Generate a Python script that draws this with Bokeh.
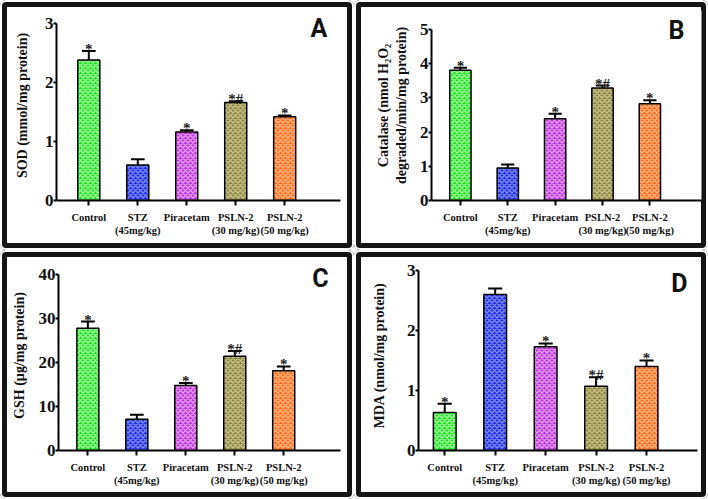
from bokeh.plotting import figure
from bokeh.layouts import column, row
from bokeh.models import FixedTicker, Label, ColumnDataSource
from bokeh.core.properties import value
from bokeh.embed import file_html
from bokeh.resources import INLINE

groups = ["Control", "STZ\n(45mg/kg)", "Piracetam", "PSLN-2\n(30 mg/kg)", "PSLN-2\n(50 mg/kg)"]
fill_colors = ["#22e422", "#2231e2", "#bb3ad8", "#8c8744", "#ff6d1f"]
hatch_colors = ["#b4ffb4", "#8a96ff", "#eca6f8", "#cfcb92", "#ffc08e"]

sod_mean = [2.38, 0.60, 1.16, 1.66, 1.42]
sod_err = [0.15, 0.10, 0.03, 0.02, 0.02]
cat_mean = [3.81, 0.95, 2.39, 3.29, 2.83]
cat_err = [0.07, 0.10, 0.15, 0.07, 0.10]
gsh_mean = [27.8, 7.1, 14.75, 21.4, 18.1]
gsh_err = [1.5, 1.0, 0.6, 1.2, 1.0]
mda_mean = [0.635, 2.60, 1.73, 1.07, 1.40]
mda_err = [0.145, 0.10, 0.055, 0.15, 0.10]
marks = ["*", "", "*", "*#", "*"]

SERIF = "Liberation Serif"
INK = "#111111"


def panel(letter, means, errs, ylabel, yticks, ymax, yend, xr, width, height,
          left, right, top, bottom, letter_xy, label_standoff):
    p = figure(width=width, height=height, x_range=xr, y_range=(0, yend),
               output_backend="svg", toolbar_location=None,
               min_border_left=left, min_border_right=right,
               min_border_top=top, min_border_bottom=bottom)
    p.outline_line_color = None
    p.border_fill_alpha = 0
    p.xgrid.visible = False
    p.ygrid.visible = False
    p.styles = {"box-shadow": "inset 0 0 0 2px #ffffff, inset 0 0 0 7px #151515",
                "border-radius": "6px"}
    xs = list(range(len(groups)))
    tops = [m + e for m, e in zip(means, errs)]
    src = ColumnDataSource(dict(x=xs, top=means, fc=fill_colors, hc=hatch_colors,
                                etop=tops, x0=[x - 0.14 for x in xs],
                                x1=[x + 0.14 for x in xs], mk=marks,
                                tc=["#1a1a1a"] * len(xs)))
    p.vbar(x="x", top="top", width=0.45, source=src, fill_color="fc",
           line_color="black", line_width=1.5,
           hatch_pattern="diagonal_cross", hatch_color="hc", hatch_scale=5,
           hatch_weight=1.4, hatch_alpha=0.9)
    p.segment(x0="x", y0="top", x1="x", y1="etop", source=src,
              line_color="black", line_width=2)
    p.segment(x0="x0", y0="etop", x1="x1", y1="etop", source=src,
              line_color="black", line_width=2)
    p.text(x="x", y="etop", text="mk", source=src, text_align="center",
           text_baseline="alphabetic", y_offset=-2,
           text_font=value(SERIF), text_font_size="15px", text_color="tc",
           text_font_style="bold")

    # axes
    p.yaxis.ticker = FixedTicker(ticks=yticks)
    p.yaxis.bounds = (0, ymax)
    p.yaxis.axis_label = ylabel
    p.yaxis.axis_label_text_font = SERIF
    p.yaxis.axis_label_text_font_style = "bold"
    p.yaxis.axis_label_text_font_size = "14px"
    p.yaxis.axis_label_text_color = INK
    p.yaxis.axis_label_standoff = label_standoff
    p.yaxis.major_label_text_font = SERIF
    p.yaxis.major_label_text_font_style = "bold"
    p.yaxis.major_label_text_font_size = "17px"
    p.yaxis.major_label_text_color = INK
    p.yaxis.major_label_standoff = 0
    p.yaxis.minor_tick_line_color = None
    p.yaxis.major_tick_in = 0
    p.yaxis.major_tick_out = 3
    p.yaxis.axis_line_width = 2
    p.yaxis.major_tick_line_width = 2

    p.xaxis.ticker = FixedTicker(ticks=xs)
    p.xaxis.major_label_overrides = {i: g for i, g in enumerate(groups)}
    p.xaxis.major_label_text_font = SERIF
    p.xaxis.major_label_text_font_style = "bold"
    p.xaxis.major_label_text_font_size = "10.5px"
    p.xaxis.major_label_text_color = INK
    p.xaxis.major_label_standoff = 6
    p.xaxis.minor_tick_line_color = None
    p.xaxis.major_tick_in = 0
    p.xaxis.major_tick_out = 5
    p.xaxis.axis_line_width = 2
    p.xaxis.major_tick_line_width = 2

    p.add_layout(Label(x=letter_xy[0], y=letter_xy[1], text=letter,
                       text_font="Roboto", text_font_style="bold",
                       text_font_size="25px", text_align="center",
                       text_baseline="middle", text_color=INK))
    return p


pA = panel("A", sod_mean, sod_err, "SOD (mmol/mg protein)", [0, 1, 2, 3], 3, 3.218,
           (-0.66, 5.14), 354, 250, 56, 14, 10, 48, (4.70, 2.91), 12)
pB = panel("B", cat_mean, cat_err,
           "Catalase (nmol H\u2082O\u2082\ndegraded/min/mg protein)",
           [0, 1, 2, 3, 4, 5], 5, 5.556, (-0.61, 5.09), 354, 250, 77, 7, 10, 50,
           (4.56, 4.97), 8)
pC = panel("C", gsh_mean, gsh_err, "GSH (\u00b5g/mg protein)", [0, 10, 20, 30, 40], 40,
           43.18, (-0.60, 5.16), 354, 249, 58, 14, 10, 49, (4.75, 39.0), 9)
pD = panel("D", mda_mean, mda_err, "MDA (nmol/mg protein)", [0, 1, 2, 3], 3, 3.166,
           (-0.52, 5.01), 354, 249, 64, 11, 10, 48, (4.65, 2.79), 17)

layout = column(row(pA, pB, spacing=0), row(pC, pD, spacing=0), spacing=0)
open("out.html", "w").write(file_html(layout, INLINE))
